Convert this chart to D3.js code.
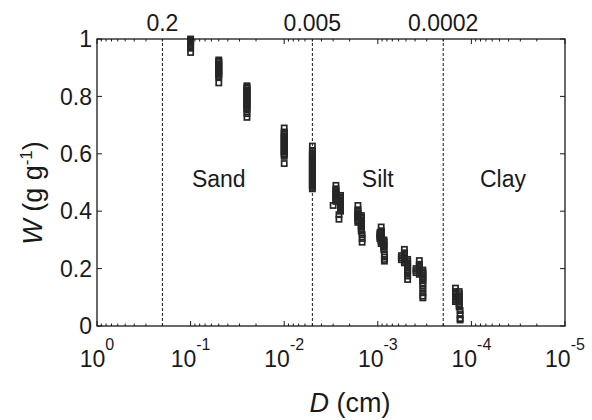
<!DOCTYPE html>
<html>
<head>
<meta charset="utf-8">
<script src="https://cdn.jsdelivr.net/npm/d3@7"></script>
<style>
  html, body { margin: 0; padding: 0; background: #fff; }
  svg text { font-family: "Liberation Sans", Arial, sans-serif; fill: #1a1a1a; }
</style>
</head>
<body>
<div id="chart"></div>
<script>
// ---- data ----
const xTickExponents = [0, -1, -2, -3, -4, -5];
const yTicks = [0, 0.2, 0.4, 0.6, 0.8, 1];
const yTickLabels = ["0", "0.2", "0.4", "0.6", "0.8", "1"];
const boundaryD = [0.2, 0.005, 0.0002];
const boundaryLabels = ["0.2", "0.005", "0.0002"];
const regionNames = ["Sand", "Silt", "Clay"];
const regionLabelD = [0.05, 0.001, 0.000046];
const regionLabelW = 0.486;

// Particle diameter of each column of samples (cm) and measured W values in it
const columnD = [
  0.1, 0.05, 0.025, 0.01, 0.005,
  0.0028, 0.0025, 0.0030, 0.0026,
  0.00163, 0.00150, 0.00147,
  0.00092, 0.00095, 0.00086, 0.00085,
  0.00052, 0.00056, 0.00048,
  0.00036, 0.00039, 0.00033,
  0.000148, 0.000135, 0.000132
];
const columnW = [
  [1.0, 0.995, 0.991, 0.986, 0.981, 0.977, 0.972, 0.968, 0.953],
  [0.927, 0.922, 0.918, 0.912, 0.907, 0.903, 0.897, 0.892, 0.888, 0.882, 0.877, 0.873, 0.867, 0.847],
  [0.837, 0.832, 0.828, 0.822, 0.817, 0.813, 0.807, 0.802, 0.798, 0.792, 0.787, 0.783, 0.777, 0.772, 0.768, 0.762, 0.757, 0.752, 0.740, 0.727],
  [0.690, 0.676, 0.671, 0.667, 0.661, 0.656, 0.652, 0.646, 0.641, 0.637, 0.631, 0.626, 0.622, 0.616, 0.611, 0.607, 0.601, 0.596, 0.591, 0.566],
  [0.627, 0.612, 0.603, 0.598, 0.594, 0.588, 0.583, 0.579, 0.573, 0.568, 0.564, 0.558, 0.553, 0.549, 0.543, 0.538, 0.534, 0.528, 0.523, 0.519, 0.513, 0.508, 0.504, 0.498, 0.493, 0.489, 0.483, 0.478],
  [0.490, 0.478, 0.472, 0.467, 0.462, 0.458, 0.453, 0.448, 0.444, 0.439, 0.434],
  [0.455, 0.450, 0.445, 0.440, 0.436, 0.431, 0.426, 0.421, 0.416, 0.411, 0.405, 0.400],
  [0.420],
  [0.388, 0.372],
  [0.420, 0.405, 0.400, 0.395, 0.391, 0.385, 0.380, 0.376, 0.370, 0.365, 0.361],
  [0.385, 0.380, 0.376, 0.370, 0.365, 0.361, 0.355, 0.350, 0.346, 0.340, 0.335, 0.330],
  [0.318, 0.305, 0.292],
  [0.345, 0.332, 0.327, 0.323, 0.317, 0.312, 0.308, 0.302, 0.297, 0.293, 0.287],
  [0.325, 0.318, 0.311, 0.304],
  [0.300, 0.295, 0.291, 0.285, 0.280, 0.276, 0.270, 0.265],
  [0.250, 0.240, 0.232, 0.226],
  [0.267, 0.255, 0.250, 0.246, 0.240, 0.235, 0.231, 0.225, 0.220],
  [0.245, 0.238, 0.231],
  [0.232, 0.226, 0.220, 0.214, 0.208, 0.202, 0.196, 0.190, 0.184, 0.174, 0.162],
  [0.228, 0.215, 0.210, 0.206, 0.200, 0.195, 0.191, 0.185, 0.180],
  [0.200, 0.193, 0.186],
  [0.195, 0.189, 0.183, 0.177, 0.171, 0.165, 0.159, 0.150, 0.140, 0.128, 0.116, 0.104, 0.098],
  [0.132, 0.120, 0.115, 0.111, 0.105, 0.100, 0.096, 0.090, 0.085],
  [0.120, 0.113, 0.106, 0.099, 0.092, 0.085, 0.078, 0.071, 0.066],
  [0.054, 0.040, 0.026, 0.021]
];

// ---- layout ----
const W = 592, H = 420;
const margin = { left: 97, right: 27, top: 39, bottom: 94 };
const iw = W - margin.left - margin.right;
const ih = H - margin.top - margin.bottom;

const svg = d3.select("#chart").append("svg")
  .attr("width", W).attr("height", H);

const x = d3.scaleLog().domain([1, 1e-5]).range([margin.left, margin.left + iw]);
const y = d3.scaleLinear().domain([0, 1]).range([margin.top + ih, margin.top]);

const ink = "#1a1a1a";
const fs = 23;

// boundary dashed lines
svg.append("g").selectAll("line").data(boundaryD).join("line")
  .attr("x1", d => x(d)).attr("x2", d => x(d))
  .attr("y1", y(0)).attr("y2", y(1))
  .attr("stroke", ink).attr("stroke-width", 1)
  .attr("stroke-dasharray", "3,2");

// boundary labels above plot
svg.append("g").selectAll("text").data(boundaryD).join("text")
  .attr("x", d => x(d)).attr("y", margin.top - 8)
  .attr("text-anchor", "middle").attr("font-size", fs)
  .text((d, i) => boundaryLabels[i]);

// region labels
svg.append("g").selectAll("text").data(regionNames).join("text")
  .attr("x", (d, i) => x(regionLabelD[i])).attr("y", y(regionLabelW))
  .attr("text-anchor", "middle").attr("font-size", fs)
  .text(d => d);

// markers
const pts = [];
columnD.forEach((d, i) => columnW[i].forEach(w => pts.push({ d, w })));
const ms = 5.2;
svg.append("g").selectAll("rect").data(pts).join("rect")
  .attr("x", p => x(p.d) - ms / 2).attr("y", p => y(p.w) - ms / 2)
  .attr("width", ms).attr("height", ms)
  .attr("fill", "none").attr("stroke", "#262626").attr("stroke-width", 1.7);

// x ticks (major + minor), inward on bottom and top
const majors = xTickExponents.map(e => Math.pow(10, e));
const minors = [];
xTickExponents.slice(1).forEach(e => {
  for (let m = 2; m <= 9; m++) minors.push(m * Math.pow(10, e));
});
const tg = svg.append("g").attr("stroke", ink).attr("stroke-width", 1);
[[y(0), -1], [y(1), 1]].forEach(([yy, dir]) => {
  tg.append("g").selectAll("line").data(majors).join("line")
    .attr("x1", d => x(d)).attr("x2", d => x(d))
    .attr("y1", yy).attr("y2", yy + dir * 5);
  tg.append("g").selectAll("line").data(minors).join("line")
    .attr("x1", d => x(d)).attr("x2", d => x(d))
    .attr("y1", yy).attr("y2", yy + dir * 2.5);
});
// y ticks inward on both sides
[[x(1), 1], [x(1e-5), -1]].forEach(([xx, dir]) => {
  tg.append("g").selectAll("line").data(yTicks).join("line")
    .attr("x1", xx).attr("x2", xx + dir * 5)
    .attr("y1", d => y(d)).attr("y2", d => y(d));
});

// frame
svg.append("rect")
  .attr("x", margin.left).attr("y", margin.top)
  .attr("width", iw).attr("height", ih)
  .attr("fill", "none").attr("stroke", ink).attr("stroke-width", 1.3);

// x tick labels 10^n
const xl = svg.append("g").selectAll("text").data(xTickExponents).join("text")
  .attr("x", e => x(Math.pow(10, e))).attr("y", y(0) + 41)
  .attr("text-anchor", "middle").attr("font-size", fs);
xl.append("tspan").text("10");
xl.append("tspan").attr("font-size", 16).attr("dy", -17).text(e => e === 0 ? "0" : "-" + Math.abs(e));

// y tick labels
svg.append("g").selectAll("text").data(yTicks).join("text")
  .attr("x", margin.left - 5).attr("y", d => y(d))
  .attr("dy", "0.36em")
  .attr("text-anchor", "end").attr("font-size", fs)
  .text((d, i) => yTickLabels[i]);

// axis titles
const tfs = 27;
const xt = svg.append("text")
  .attr("x", 350).attr("y", 412)
  .attr("text-anchor", "middle").attr("font-size", tfs);
xt.append("tspan").attr("font-style", "italic").text("D");
xt.append("tspan").text(" (cm)");

const yt = svg.append("text")
  .attr("transform", `translate(42, 193) rotate(-90)`)
  .attr("text-anchor", "middle").attr("font-size", tfs);
yt.append("tspan").attr("font-style", "italic").text("W");
yt.append("tspan").text(" (g g");
yt.append("tspan").attr("font-size", 17).attr("dy", -10).text("-1");
yt.append("tspan").attr("dy", 10).text(")");
</script>
</body>
</html>
